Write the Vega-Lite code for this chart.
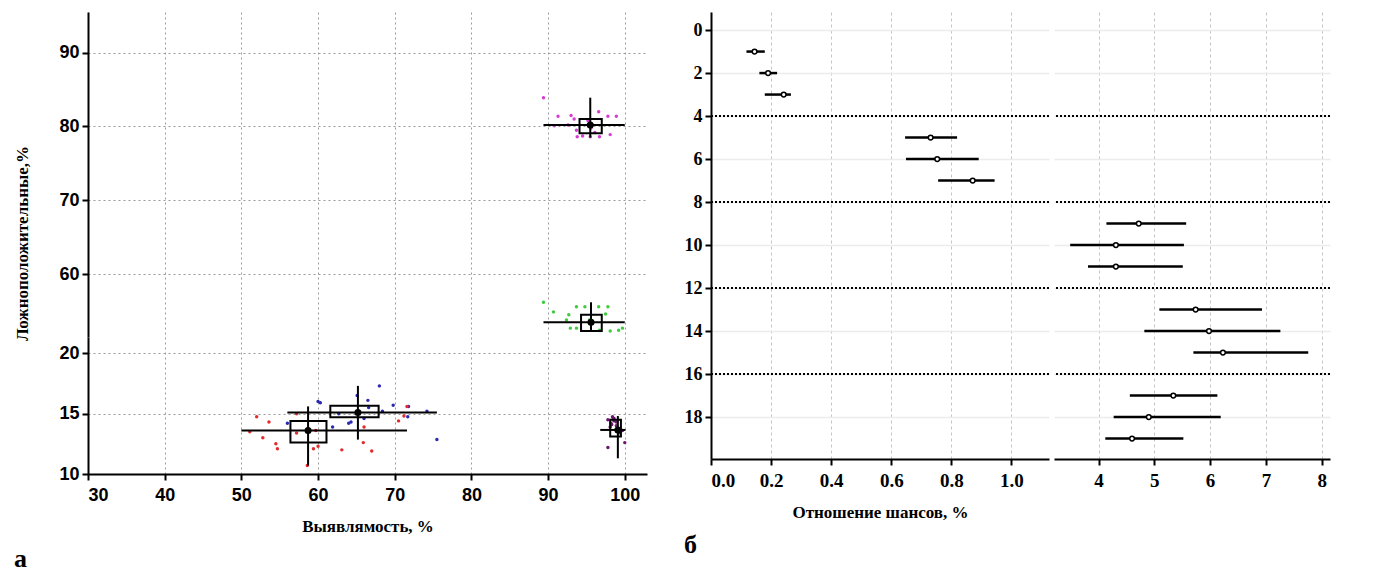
{
  "$schema": "https://vega.github.io/schema/vega-lite/v6.json",
  "background": "white",
  "padding": {"left": 13, "top": 12, "right": 0, "bottom": 0},
  "spacing": 37,
  "config": {
    "view": {"stroke": null},
    "axis": {"domainColor": "black", "domainWidth": 2, "tickColor": "black", "tickWidth": 2, "tickSize": 6, "labelColor": "black", "titleColor": "black"}
  },
  "datasets": {
    "pts": [
      {"model": "Модель 1 (ПСА)", "x": 89.4, "y": 83.9},
      {"model": "Модель 1 (ПСА)", "x": 91.3, "y": 81.4},
      {"model": "Модель 1 (ПСА)", "x": 93.0, "y": 81.5},
      {"model": "Модель 1 (ПСА)", "x": 93.4, "y": 81.0},
      {"model": "Модель 1 (ПСА)", "x": 92.6, "y": 80.2},
      {"model": "Модель 1 (ПСА)", "x": 90.8, "y": 80.1},
      {"model": "Модель 1 (ПСА)", "x": 93.7, "y": 79.5},
      {"model": "Модель 1 (ПСА)", "x": 94.5, "y": 78.7},
      {"model": "Модель 1 (ПСА)", "x": 95.5, "y": 78.6},
      {"model": "Модель 1 (ПСА)", "x": 96.1, "y": 79.2},
      {"model": "Модель 1 (ПСА)", "x": 96.7, "y": 78.6},
      {"model": "Модель 1 (ПСА)", "x": 98.1, "y": 78.9},
      {"model": "Модель 1 (ПСА)", "x": 97.8, "y": 81.4},
      {"model": "Модель 1 (ПСА)", "x": 98.9, "y": 81.4},
      {"model": "Модель 1 (ПСА)", "x": 96.6, "y": 82.0},
      {"model": "Модель 1 (ПСА)", "x": 95.6, "y": 79.8},
      {"model": "Модель 1 (ПСА)", "x": 95.2, "y": 80.8},
      {"model": "Модель 1 (ПСА)", "x": 93.8, "y": 78.6},
      {"model": "Модель 2 (PHI)", "x": 89.4, "y": 56.2},
      {"model": "Модель 2 (PHI)", "x": 90.7, "y": 54.9},
      {"model": "Модель 2 (PHI)", "x": 92.7, "y": 54.5},
      {"model": "Модель 2 (PHI)", "x": 93.7, "y": 55.6},
      {"model": "Модель 2 (PHI)", "x": 94.8, "y": 55.6},
      {"model": "Модель 2 (PHI)", "x": 96.6, "y": 55.6},
      {"model": "Модель 2 (PHI)", "x": 97.8, "y": 55.6},
      {"model": "Модель 2 (PHI)", "x": 92.9, "y": 52.7},
      {"model": "Модель 2 (PHI)", "x": 93.7, "y": 52.7},
      {"model": "Модель 2 (PHI)", "x": 96.7, "y": 52.4},
      {"model": "Модель 2 (PHI)", "x": 98.1, "y": 52.3},
      {"model": "Модель 2 (PHI)", "x": 99.2, "y": 52.4},
      {"model": "Модель 2 (PHI)", "x": 99.7, "y": 52.7},
      {"model": "Модель 2 (PHI)", "x": 95.4, "y": 53.8},
      {"model": "Модель 2 (PHI)", "x": 92.4, "y": 53.8},
      {"model": "Модель 2 (PHI)", "x": 97.5, "y": 54.6},
      {"model": "Модель 3 (ТРУЗИ)", "x": 65.1, "y": 16.5},
      {"model": "Модель 3 (ТРУЗИ)", "x": 68.0, "y": 17.3},
      {"model": "Модель 3 (ТРУЗИ)", "x": 69.8, "y": 15.7},
      {"model": "Модель 3 (ТРУЗИ)", "x": 75.5, "y": 12.85},
      {"model": "Модель 3 (ТРУЗИ)", "x": 66.0, "y": 14.6},
      {"model": "Модель 3 (ТРУЗИ)", "x": 64.3, "y": 14.3},
      {"model": "Модель 3 (ТРУЗИ)", "x": 60.0, "y": 16.0},
      {"model": "Модель 3 (ТРУЗИ)", "x": 61.9, "y": 13.9},
      {"model": "Модель 3 (ТРУЗИ)", "x": 68.4, "y": 15.2},
      {"model": "Модель 3 (ТРУЗИ)", "x": 71.7, "y": 14.75},
      {"model": "Модель 3 (ТРУЗИ)", "x": 74.2, "y": 15.2},
      {"model": "Модель 3 (ТРУЗИ)", "x": 62.7, "y": 15.0},
      {"model": "Модель 3 (ТРУЗИ)", "x": 66.5, "y": 16.1},
      {"model": "Модель 3 (ТРУЗИ)", "x": 56.0, "y": 14.2},
      {"model": "Модель 3 (ТРУЗИ)", "x": 60.3, "y": 15.9},
      {"model": "Модель 3 (ТРУЗИ)", "x": 64.0, "y": 14.2},
      {"model": "Модель 3 (ТРУЗИ)", "x": 66.6, "y": 15.5},
      {"model": "Модель 3 (ТРУЗИ)", "x": 71.8, "y": 15.6},
      {"model": "Модель 4 (ПСА/ТРУЗИ, НА)", "x": 97.8, "y": 14.5},
      {"model": "Модель 4 (ПСА/ТРУЗИ, НА)", "x": 98.4, "y": 14.75},
      {"model": "Модель 4 (ПСА/ТРУЗИ, НА)", "x": 98.9, "y": 14.3},
      {"model": "Модель 4 (ПСА/ТРУЗИ, НА)", "x": 98.1, "y": 13.9},
      {"model": "Модель 4 (ПСА/ТРУЗИ, НА)", "x": 97.8, "y": 12.2},
      {"model": "Модель 4 (ПСА/ТРУЗИ, НА)", "x": 100.0, "y": 12.6},
      {"model": "Модель 4 (ПСА/ТРУЗИ, НА)", "x": 99.7, "y": 13.6},
      {"model": "Модель 4 (ПСА/ТРУЗИ, НА)", "x": 98.6, "y": 14.6},
      {"model": "Модель 4 (ПСА/ТРУЗИ, НА)", "x": 98.3, "y": 14.1},
      {"model": "Модель 4 (ПСА/ТРУЗИ, НА)", "x": 99.2, "y": 13.4},
      {"model": "Модель 4 (ПСА/ТРУЗИ, НА)", "x": 98.6, "y": 14.4},
      {"model": "Модель 4 (ПСА/ТРУЗИ, НА)", "x": 98.2, "y": 14.2},
      {"model": "Модель 4 (ПСА/ТРУЗИ, НА)", "x": 98.9, "y": 14.0},
      {"model": "Модель 4 (ПСА/ТРУЗИ, НА)", "x": 98.5, "y": 14.55},
      {"model": "Модель 5 (ПСА/ТРУЗИ, ПА)", "x": 52.0, "y": 14.75},
      {"model": "Модель 5 (ПСА/ТРУЗИ, ПА)", "x": 53.6, "y": 14.3},
      {"model": "Модель 5 (ПСА/ТРУЗИ, ПА)", "x": 52.8, "y": 13.0},
      {"model": "Модель 5 (ПСА/ТРУЗИ, ПА)", "x": 54.5, "y": 12.5},
      {"model": "Модель 5 (ПСА/ТРУЗИ, ПА)", "x": 54.7, "y": 12.1},
      {"model": "Модель 5 (ПСА/ТРУЗИ, ПА)", "x": 59.4, "y": 12.1},
      {"model": "Модель 5 (ПСА/ТРУЗИ, ПА)", "x": 60.0, "y": 12.3},
      {"model": "Модель 5 (ПСА/ТРУЗИ, ПА)", "x": 63.1, "y": 12.0},
      {"model": "Модель 5 (ПСА/ТРУЗИ, ПА)", "x": 67.0, "y": 11.9},
      {"model": "Модель 5 (ПСА/ТРУЗИ, ПА)", "x": 70.5, "y": 14.4},
      {"model": "Модель 5 (ПСА/ТРУЗИ, ПА)", "x": 71.6, "y": 15.6},
      {"model": "Модель 5 (ПСА/ТРУЗИ, ПА)", "x": 71.2, "y": 14.8},
      {"model": "Модель 5 (ПСА/ТРУЗИ, ПА)", "x": 58.6, "y": 10.7},
      {"model": "Модель 5 (ПСА/ТРУЗИ, ПА)", "x": 65.9, "y": 12.6},
      {"model": "Модель 5 (ПСА/ТРУЗИ, ПА)", "x": 57.2, "y": 15.0},
      {"model": "Модель 5 (ПСА/ТРУЗИ, ПА)", "x": 59.7, "y": 13.6},
      {"model": "Модель 5 (ПСА/ТРУЗИ, ПА)", "x": 66.0, "y": 13.9},
      {"model": "Модель 5 (ПСА/ТРУЗИ, ПА)", "x": 51.1, "y": 13.5},
      {"model": "Модель 5 (ПСА/ТРУЗИ, ПА)", "x": 57.2, "y": 13.4}
    ],
    "stats": [
      {"model": "Модель 1 (ПСА)", "cx": 95.5, "cy": 80.2, "bx1": 94.1, "bx2": 97.0, "by1": 79.1, "by2": 81.0, "wx1": 89.4, "wx2": 100.0, "wy1": 78.5, "wy2": 83.9},
      {"model": "Модель 2 (PHI)", "cx": 95.6, "cy": 53.5, "bx1": 94.3, "bx2": 97.0, "by1": 52.3, "by2": 54.5, "wx1": 89.4, "wx2": 100.0, "wy1": 52.3, "wy2": 56.2},
      {"model": "Модель 3 (ТРУЗИ)", "cx": 65.2, "cy": 15.1, "bx1": 61.6, "bx2": 67.9, "by1": 14.7, "by2": 15.65, "wx1": 56.0, "wx2": 75.5, "wy1": 12.85, "wy2": 17.3},
      {"model": "Модель 4 (ПСА/ТРУЗИ, НА)", "cx": 99.1, "cy": 13.65, "bx1": 98.1, "bx2": 99.5, "by1": 13.1, "by2": 14.5, "wx1": 96.8, "wx2": 100.1, "wy1": 11.3, "wy2": 14.8},
      {"model": "Модель 5 (ПСА/ТРУЗИ, ПА)", "cx": 58.7, "cy": 13.6, "bx1": 56.4, "bx2": 61.1, "by1": 12.6, "by2": 14.4, "wx1": 50.0, "wx2": 71.6, "wy1": 10.7, "wy2": 15.6}
    ],
    "odds": [
      {"idx": 1, "lo": 0.118, "hi": 0.179, "b1": 0.133, "b2": 0.159, "c": 0.145},
      {"idx": 2, "lo": 0.161, "hi": 0.220, "b1": 0.176, "b2": 0.205, "c": 0.190},
      {"idx": 3, "lo": 0.179, "hi": 0.266, "b1": 0.228, "b2": 0.256, "c": 0.242},
      {"idx": 5, "lo": 0.646, "hi": 0.819, "b1": 0.707, "b2": 0.753, "c": 0.731},
      {"idx": 6, "lo": 0.649, "hi": 0.891, "b1": 0.673, "b2": 0.783, "c": 0.753},
      {"idx": 7, "lo": 0.756, "hi": 0.944, "b1": 0.829, "b2": 0.906, "c": 0.871},
      {"idx": 9, "lo": 4.14, "hi": 5.57, "b1": 4.57, "b2": 4.99, "c": 4.72},
      {"idx": 10, "lo": 3.49, "hi": 5.53, "b1": 3.64, "b2": 4.49, "c": 4.31},
      {"idx": 11, "lo": 3.81, "hi": 5.51, "b1": 4.22, "b2": 4.58, "c": 4.31},
      {"idx": 13, "lo": 5.09, "hi": 6.93, "b1": 5.45, "b2": 6.25, "c": 5.74},
      {"idx": 14, "lo": 4.82, "hi": 7.26, "b1": 5.45, "b2": 6.25, "c": 5.98},
      {"idx": 15, "lo": 5.70, "hi": 7.76, "b1": 5.92, "b2": 6.52, "c": 6.23},
      {"idx": 17, "lo": 4.56, "hi": 6.13, "b1": 5.12, "b2": 5.62, "c": 5.34},
      {"idx": 18, "lo": 4.27, "hi": 6.19, "b1": 4.75, "b2": 5.26, "c": 4.90},
      {"idx": 19, "lo": 4.12, "hi": 5.52, "b1": 4.35, "b2": 5.01, "c": 4.60}
    ],
    "seps": [{"idx": 4}, {"idx": 8}, {"idx": 12}, {"idx": 16}]
  },
  "hconcat": [
    {
      "title": {"text": "а", "orient": "bottom", "font": "Liberation Serif", "fontSize": 26, "fontWeight": "bold", "color": "black", "offset": 12},
      "bounds": "flush",
      "spacing": 0,
      "resolve": {"scale": {"color": "independent", "x": "independent", "y": "independent"}, "legend": {"color": "independent"}},
      "vconcat": [
        {
          "width": 559,
          "height": 325,
          "layer": [
            {
              "data": {"name": "pts"},
              "transform": [{"filter": "datum.y > 30"}],
              "mark": {"type": "circle", "size": 12, "opacity": 1},
              "encoding": {
                "x": {"field": "x", "type": "quantitative", "title": null,
                  "scale": {"domain": [30, 102.9], "nice": false, "zero": false},
                  "axis": {"values": [30, 40, 50, 60, 70, 80, 90, 100], "labels": false, "ticks": false, "domain": false, "title": null, "grid": true, "gridDash": [2, 3], "gridColor": "#9a9a9a", "gridWidth": 1}},
                "y": {"field": "y", "type": "quantitative", "title": "Ложноположительные,%",
                  "scale": {"domain": [51.5, 95.5], "nice": false, "zero": false},
                  "axis": {"values": [60, 70, 80, 90], "labelFont": "Liberation Sans", "labelFontSize": 18, "labelFontWeight": "bold", "labelPadding": 3, "titleFont": "Liberation Serif", "titleFontSize": 17, "titleFontWeight": "bold", "titlePadding": 27, "titleY": 231, "grid": true, "gridDash": [2, 3], "gridColor": "#9a9a9a", "gridWidth": 1}},
                "color": {"field": "model", "type": "nominal",
                  "scale": {"domain": ["Модель 1 (ПСА)", "Модель 2 (PHI)", "Модель 3 (ТРУЗИ)", "Модель 4 (ПСА/ТРУЗИ, НА)", "Модель 5 (ПСА/ТРУЗИ, ПА)"], "range": ["#d63cd6", "#3fcc3f", "#2a2ab4", "#6b1570", "#e52b2b"]},
                  "legend": null}
              }
            },
            {
              "data": {"name": "stats"},
              "transform": [{"filter": "datum.cy > 30"}],
              "mark": {"type": "rect", "filled": false, "strokeWidth": 2, "stroke": "black"},
              "encoding": {
                "x": {"field": "bx1", "type": "quantitative", "title": null},
                "x2": {"field": "bx2"},
                "y": {"field": "by1", "type": "quantitative", "title": "Ложноположительные,%"},
                "y2": {"field": "by2"}
              }
            },
            {
              "data": {"name": "stats"},
              "transform": [{"filter": "datum.cy > 30"}],
              "mark": {"type": "rule", "strokeWidth": 2, "color": "black"},
              "encoding": {
                "x": {"field": "wx1", "type": "quantitative", "title": null},
                "x2": {"field": "wx2"},
                "y": {"field": "cy", "type": "quantitative", "title": "Ложноположительные,%"}
              }
            },
            {
              "data": {"name": "stats"},
              "transform": [{"filter": "datum.cy > 30"}],
              "mark": {"type": "rule", "strokeWidth": 2, "color": "black"},
              "encoding": {
                "x": {"field": "cx", "type": "quantitative", "title": null},
                "y": {"field": "wy1", "type": "quantitative", "title": "Ложноположительные,%"},
                "y2": {"field": "wy2"}
              }
            },
            {
              "data": {"name": "stats"},
              "transform": [{"filter": "datum.cy > 30"}],
              "mark": {"type": "point", "filled": true, "opacity": 1, "shape": "circle", "size": 50, "color": "black"},
              "encoding": {
                "x": {"field": "cx", "type": "quantitative", "title": null},
                "y": {"field": "cy", "type": "quantitative", "title": "Ложноположительные,%"}
              }
            }
          ]
        },
        {
          "width": 559,
          "height": 137,
          "layer": [
            {
              "data": {"name": "pts"},
              "transform": [{"filter": "datum.y < 30"}],
              "mark": {"type": "circle", "size": 12, "opacity": 1},
              "encoding": {
                "x": {"field": "x", "type": "quantitative", "title": "Выявлямость, %",
                  "scale": {"domain": [30, 102.9], "nice": false, "zero": false},
                  "axis": {"values": [30, 40, 50, 60, 70, 80, 90, 100], "labelFont": "Liberation Sans", "labelFontSize": 18, "labelFontWeight": "bold", "labelPadding": 6, "titleFont": "Liberation Serif", "titleFontSize": 17, "titleFontWeight": "bold", "titlePadding": 14, "grid": true, "gridDash": [2, 3], "gridColor": "#9a9a9a", "gridWidth": 1}},
                "y": {"field": "y", "type": "quantitative", "title": null,
                  "scale": {"domain": [10, 21.35], "nice": false, "zero": false},
                  "axis": {"values": [10, 15, 20], "labelFont": "Liberation Sans", "labelFontSize": 18, "labelFontWeight": "bold", "labelPadding": 3, "title": null, "grid": true, "gridDash": [2, 3], "gridColor": "#9a9a9a", "gridWidth": 1}},
                "color": {"field": "model", "type": "nominal",
                  "scale": {"domain": ["Модель 1 (ПСА)", "Модель 2 (PHI)", "Модель 3 (ТРУЗИ)", "Модель 4 (ПСА/ТРУЗИ, НА)", "Модель 5 (ПСА/ТРУЗИ, ПА)"], "range": ["#d63cd6", "#3fcc3f", "#2a2ab4", "#6b1570", "#e52b2b"]},
                  "legend": null}
              }
            },
            {
              "data": {"name": "stats"},
              "transform": [{"filter": "datum.cy < 30"}],
              "mark": {"type": "rect", "filled": false, "strokeWidth": 2, "stroke": "black"},
              "encoding": {
                "x": {"field": "bx1", "type": "quantitative", "title": "Выявлямость, %"},
                "x2": {"field": "bx2"},
                "y": {"field": "by1", "type": "quantitative", "title": null},
                "y2": {"field": "by2"}
              }
            },
            {
              "data": {"name": "stats"},
              "transform": [{"filter": "datum.cy < 30"}],
              "mark": {"type": "rule", "strokeWidth": 2, "color": "black"},
              "encoding": {
                "x": {"field": "wx1", "type": "quantitative", "title": "Выявлямость, %"},
                "x2": {"field": "wx2"},
                "y": {"field": "cy", "type": "quantitative", "title": null}
              }
            },
            {
              "data": {"name": "stats"},
              "transform": [{"filter": "datum.cy < 30"}],
              "mark": {"type": "rule", "strokeWidth": 2, "color": "black"},
              "encoding": {
                "x": {"field": "cx", "type": "quantitative", "title": "Выявлямость, %"},
                "y": {"field": "wy1", "type": "quantitative", "title": null},
                "y2": {"field": "wy2"}
              }
            },
            {
              "data": {"name": "stats"},
              "transform": [{"filter": "datum.cy < 30"}],
              "mark": {"type": "point", "filled": true, "opacity": 1, "shape": "circle", "size": 50, "color": "black"},
              "encoding": {
                "x": {"field": "cx", "type": "quantitative", "title": "Выявлямость, %"},
                "y": {"field": "cy", "type": "quantitative", "title": null}
              }
            }
          ]
        }
      ]
    },
    {
      "title": {"text": "б", "orient": "bottom", "font": "Liberation Serif", "fontSize": 26, "fontWeight": "bold", "color": "black", "offset": 12},
      "bounds": "flush",
      "spacing": 5,
      "resolve": {"scale": {"x": "independent", "y": "independent"}},
      "hconcat": [
        {
          "width": 338,
          "height": 447,
          "layer": [
            {
              "data": {"name": "seps"},
              "mark": {"type": "rule", "color": "black", "strokeWidth": 2, "strokeDash": [2, 2]},
              "encoding": {
                "y": {"field": "idx", "type": "quantitative", "title": null,
                  "scale": {"domain": [-0.84, 19.95], "reverse": true, "nice": false, "zero": false},
                  "axis": {"values": [0, 1, 2, 3, 4, 5, 6, 7, 8, 9, 10, 11, 12, 13, 14, 15, 16, 17, 18, 19],
                    "labelFont": "Liberation Serif", "labelFontSize": 18, "labelFontWeight": "bold", "labelPadding": 3, "grid": true, "gridColor": "#ececec", "gridWidth": 1.5}}
              }
            },
            {
              "data": {"name": "odds"},
              "transform": [{"filter": "datum.lo < 2"}],
              "mark": {"type": "rule", "color": "black", "strokeWidth": 2.5},
              "encoding": {
                "x": {"field": "lo", "type": "quantitative", "title": "Отношение шансов, %",
                  "scale": {"domain": [0, 1.125], "nice": false, "zero": false},
                  "axis": {"values": [0, 0.2, 0.4, 0.6, 0.8, 1],
                    "labelFont": "Liberation Serif", "labelFontSize": 19, "labelFontWeight": "bold", "labelPadding": 6,
                    "titleFont": "Liberation Serif", "titleFontSize": 17, "titleFontWeight": "bold", "titlePadding": 14,
                    "grid": true, "gridDash": [3, 3], "gridColor": "#c4c4c4", "gridWidth": 1}},
                "x2": {"field": "hi"},
                "y": {"field": "idx", "type": "quantitative", "title": null}
              }
            },
            {
              "data": {"name": "odds"},
              "transform": [{"filter": "datum.lo < 2"}],
              "mark": {"type": "point", "filled": true, "fill": "white", "stroke": "black", "strokeWidth": 1.5, "size": 22, "opacity": 1},
              "encoding": {
                "x": {"field": "c", "type": "quantitative", "title": "Отношение шансов, %"},
                "y": {"field": "idx", "type": "quantitative", "title": null}
              }
            }
          ]
        },
        {
          "width": 276,
          "height": 447,
          "layer": [
            {
              "data": {"name": "seps"},
              "mark": {"type": "rule", "color": "black", "strokeWidth": 2, "strokeDash": [2, 2]},
              "encoding": {
                "y": {"field": "idx", "type": "quantitative", "title": null,
                  "scale": {"domain": [-0.84, 19.95], "reverse": true, "nice": false, "zero": false},
                  "axis": {"values": [0, 1, 2, 3, 4, 5, 6, 7, 8, 9, 10, 11, 12, 13, 14, 15, 16, 17, 18, 19], "labels": false, "ticks": false, "domain": false, "title": null, "grid": true, "gridColor": "#ececec", "gridWidth": 1.5}}
              }
            },
            {
              "data": {"name": "odds"},
              "transform": [{"filter": "datum.lo > 2"}],
              "mark": {"type": "rule", "color": "black", "strokeWidth": 2.5},
              "encoding": {
                "x": {"field": "lo", "type": "quantitative", "title": null,
                  "scale": {"domain": [3.2, 8.15], "nice": false, "zero": false},
                  "axis": {"values": [4, 5, 6, 7, 8], "format": "d",
                    "labelFont": "Liberation Serif", "labelFontSize": 19, "labelFontWeight": "bold", "labelPadding": 6, "title": null,
                    "grid": true, "gridDash": [3, 3], "gridColor": "#c4c4c4", "gridWidth": 1}},
                "x2": {"field": "hi"},
                "y": {"field": "idx", "type": "quantitative", "title": null}
              }
            },
            {
              "data": {"name": "odds"},
              "transform": [{"filter": "datum.lo > 2"}],
              "mark": {"type": "point", "filled": true, "fill": "white", "stroke": "black", "strokeWidth": 1.5, "size": 22, "opacity": 1},
              "encoding": {
                "x": {"field": "c", "type": "quantitative", "title": null},
                "y": {"field": "idx", "type": "quantitative", "title": null}
              }
            }
          ]
        }
      ]
    }
  ]
}
